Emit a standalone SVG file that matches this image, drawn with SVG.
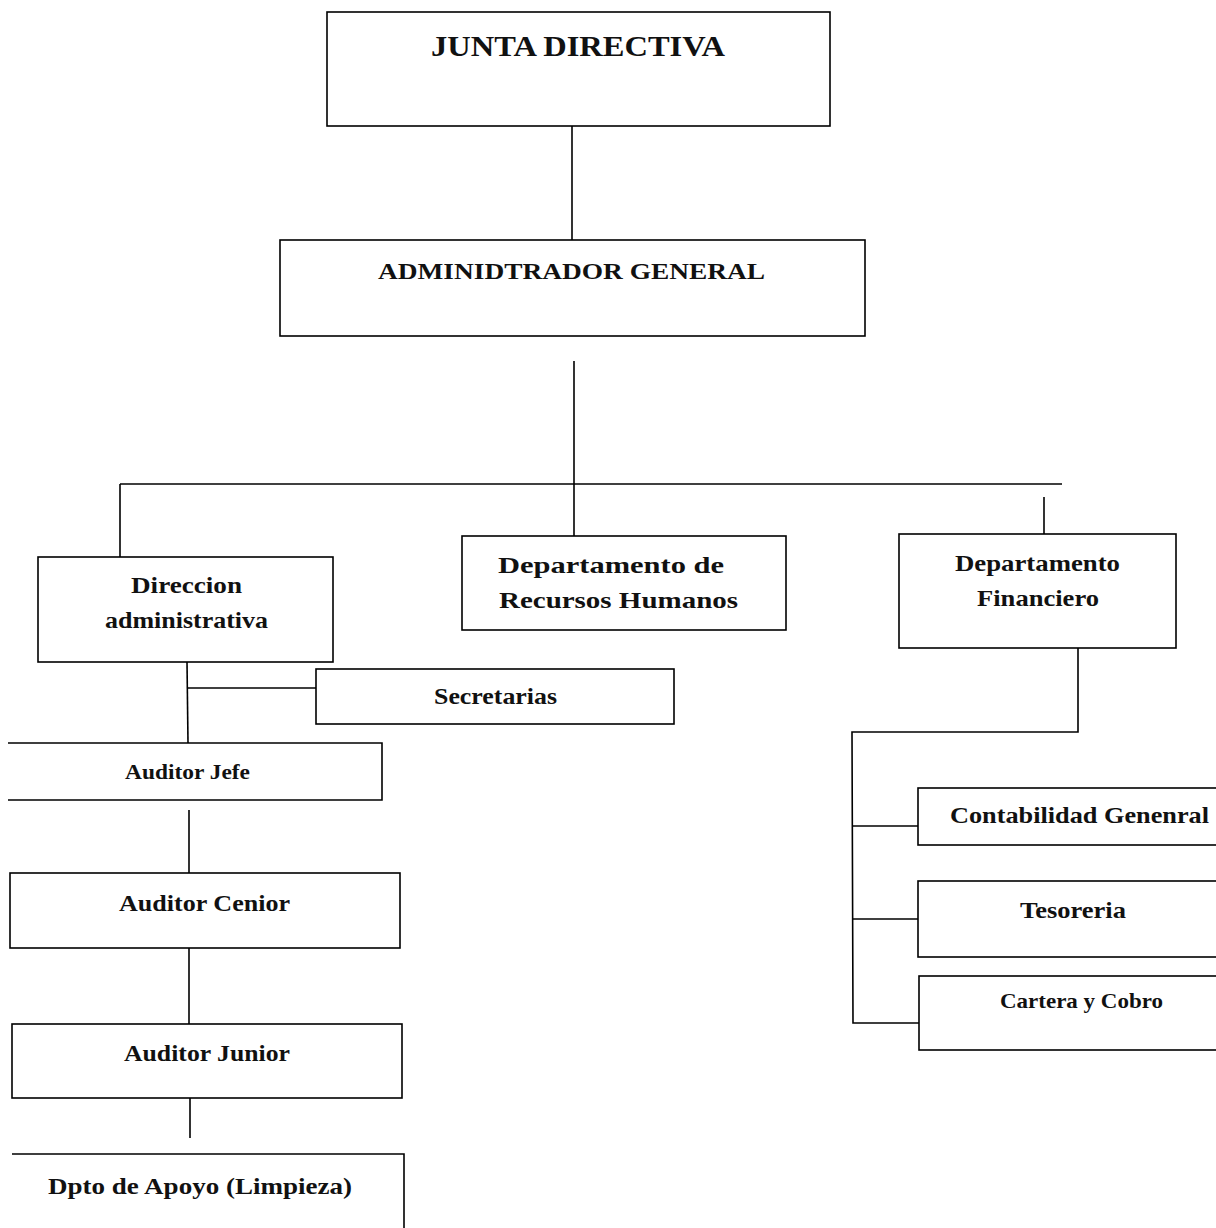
<svg xmlns="http://www.w3.org/2000/svg" width="1216" height="1228" viewBox="0 0 1216 1228">
<style>
.box{fill:none;stroke:#000;stroke-width:1.6}
.ln{fill:none;stroke:#000;stroke-width:1.6}
text{font-family:"Liberation Serif","Times New Roman",serif;font-weight:bold;fill:#111}
.t1{font-size:30px}
.t2{font-size:23px}
.t3{font-size:21px}
</style>
<rect width="1216" height="1228" fill="#fff"/>
<g id="connectors">
<line class="ln" x1="572" y1="126" x2="572" y2="240"/>
<line class="ln" x1="574" y1="361" x2="574" y2="536"/>
<line class="ln" x1="120" y1="484" x2="1062" y2="484"/>
<line class="ln" x1="120" y1="484" x2="120" y2="557"/>
<line class="ln" x1="1044" y1="497" x2="1044" y2="534"/>
<line class="ln" x1="187" y1="662" x2="188" y2="743"/>
<line class="ln" x1="188" y1="688" x2="316" y2="688"/>
<line class="ln" x1="189" y1="810" x2="189" y2="873"/>
<line class="ln" x1="189" y1="948" x2="189" y2="1024"/>
<line class="ln" x1="190" y1="1098" x2="190" y2="1138"/>
<polyline class="ln" points="1078,648 1078,732 852,732 853,1023 919,1023"/>
<line class="ln" x1="853" y1="826" x2="918" y2="826"/>
<line class="ln" x1="853" y1="919" x2="918" y2="919"/>
</g>
<g id="junta"><rect class="box" x="327" y="12" width="503" height="114"/><text class="t1" x="431" y="56" textLength="294" lengthAdjust="spacingAndGlyphs">JUNTA DIRECTIVA</text></g>
<g id="admin"><rect class="box" x="280" y="240" width="585" height="96"/><text class="t2" x="378" y="279" textLength="387" lengthAdjust="spacingAndGlyphs">ADMINIDTRADOR GENERAL</text></g>
<g id="direccion"><rect class="box" x="38" y="557" width="295" height="105"/><text class="t2" x="131" y="593" textLength="111" lengthAdjust="spacingAndGlyphs">Direccion</text><text class="t2" x="105" y="628" textLength="163" lengthAdjust="spacingAndGlyphs">administrativa</text></g>
<g id="rrhh"><rect class="box" x="462" y="536" width="324" height="94"/><text class="t2" x="498" y="573" textLength="226" lengthAdjust="spacingAndGlyphs">Departamento de</text><text class="t2" x="499" y="608" textLength="239" lengthAdjust="spacingAndGlyphs">Recursos Humanos</text></g>
<g id="financiero"><rect class="box" x="899" y="534" width="277" height="114"/><text class="t2" x="955" y="571" textLength="165" lengthAdjust="spacingAndGlyphs">Departamento</text><text class="t2" x="977" y="606" textLength="122" lengthAdjust="spacingAndGlyphs">Financiero</text></g>
<g id="secretarias"><rect class="box" x="316" y="669" width="358" height="55"/><text class="t2" x="434" y="704" textLength="123" lengthAdjust="spacingAndGlyphs">Secretarias</text></g>
<g id="auditor-jefe"><polyline class="box" points="8,743 382,743 382,800 8,800"/><text class="t3" x="125" y="779" textLength="125" lengthAdjust="spacingAndGlyphs">Auditor Jefe</text></g>
<g id="auditor-cenior"><rect class="box" x="10" y="873" width="390" height="75"/><text class="t2" x="119" y="911" textLength="171" lengthAdjust="spacingAndGlyphs">Auditor Cenior</text></g>
<g id="auditor-junior"><rect class="box" x="12" y="1024" width="390" height="74"/><text class="t2" x="124" y="1061" textLength="166" lengthAdjust="spacingAndGlyphs">Auditor Junior</text></g>
<g id="apoyo"><polyline class="box" points="12,1154 404,1154 404,1228"/><text class="t2" x="48" y="1194" textLength="304" lengthAdjust="spacingAndGlyphs">Dpto de Apoyo (Limpieza)</text></g>
<g id="contabilidad"><rect class="box" x="918" y="788" width="310" height="57"/><text class="t2" x="950" y="823" textLength="259" lengthAdjust="spacingAndGlyphs">Contabilidad Genenral</text></g>
<g id="tesoreria"><rect class="box" x="918" y="881" width="310" height="76"/><text class="t2" x="1020" y="918" textLength="106" lengthAdjust="spacingAndGlyphs">Tesoreria</text></g>
<g id="cartera"><rect class="box" x="919" y="976" width="310" height="74"/><text class="t3" x="1000" y="1008" textLength="163" lengthAdjust="spacingAndGlyphs">Cartera y Cobro</text></g>
</svg>
